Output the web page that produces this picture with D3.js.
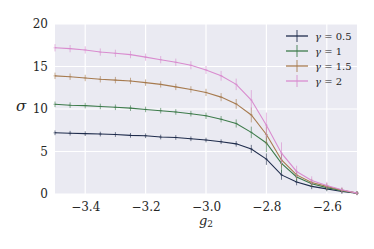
<!DOCTYPE html>
<html>
<head>
<meta charset="utf-8">
<script src="https://cdn.jsdelivr.net/npm/d3@7"></script>
<style>
  body { margin: 0; background: #fff; }
  svg text { fill: #262626; }
</style>
</head>
<body>
<script>
const width = 374;
const height = 249;

// x positions (g2)
const g2 = [-3.5, -3.45, -3.4, -3.35, -3.3, -3.25, -3.2, -3.15, -3.1, -3.05, -3.0,
  -2.95, -2.9, -2.85, -2.8, -2.75, -2.7, -2.65, -2.6, -2.55, -2.5];

// sigma values per gamma
const sigma05 = [7.2, 7.15, 7.1, 7.05, 7.0, 6.9, 6.85, 6.7, 6.65, 6.5, 6.35,
  6.15, 5.9, 5.3, 4.1, 2.25, 1.4, 0.9, 0.6, 0.3, 0.1];
const sigma1 = [10.55, 10.45, 10.4, 10.3, 10.2, 10.1, 9.95, 9.8, 9.65, 9.45, 9.2,
  8.8, 8.3, 7.25, 6.0, 3.6, 2.0, 1.2, 0.75, 0.4, 0.1];
const sigma15 = [13.9, 13.8, 13.65, 13.5, 13.4, 13.3, 13.1, 12.9, 12.6, 12.3, 11.95,
  11.4, 10.6, 9.3, 7.0, 4.0, 2.25, 1.35, 0.9, 0.45, 0.1];
const sigma2 = [17.2, 17.1, 16.95, 16.7, 16.55, 16.4, 16.1, 15.8, 15.5, 15.15, 14.6,
  13.9, 12.9, 11.05, 8.1, 4.8, 2.65, 1.6, 1.0, 0.5, 0.1];

// error bar half-widths
const err05 = [0.1, 0.1, 0.1, 0.1, 0.1, 0.1, 0.1, 0.1, 0.1, 0.1, 0.1,
  0.1, 0.15, 0.3, 0.5, 0.4, 0.2, 0.15, 0.1, 0.1, 0.05];
const err1 = [0.15, 0.15, 0.15, 0.15, 0.15, 0.15, 0.15, 0.15, 0.15, 0.15, 0.2,
  0.2, 0.3, 0.5, 0.9, 0.9, 0.3, 0.2, 0.15, 0.1, 0.05];
const err15 = [0.2, 0.2, 0.2, 0.2, 0.2, 0.2, 0.2, 0.2, 0.2, 0.2, 0.25,
  0.3, 0.4, 0.7, 1.0, 0.7, 0.35, 0.25, 0.2, 0.1, 0.05];
const err2 = [0.25, 0.25, 0.25, 0.25, 0.25, 0.25, 0.25, 0.25, 0.25, 0.3, 0.3,
  0.4, 0.5, 1.0, 1.3, 1.1, 0.5, 0.3, 0.25, 0.15, 0.05];

const labels = ["0.5", "1", "1.5", "2"];
const colors = ["#1f2c4c", "#3d7b4b", "#a77b4f", "#d98ccf"];
const xTicks = [-3.4, -3.2, -3.0, -2.8, -2.6];
const yTicks = [0, 5, 10, 15, 20];

const series = [sigma05, sigma1, sigma15, sigma2].map((s, i) => ({
  label: labels[i],
  color: colors[i],
  pts: s.map((v, j) => ({ x: g2[j], y: v, e: [err05, err1, err15, err2][i][j] }))
}));

const margin = { left: 55, right: 17, top: 24, bottom: 55 };
const font = "'DejaVu Serif', 'Liberation Serif', serif";

const x = d3.scaleLinear().domain([-3.5, -2.5]).range([margin.left, width - margin.right]);
const y = d3.scaleLinear().domain([0, 20]).range([height - margin.bottom, margin.top]);

const svg = d3.select('body').append('svg')
  .attr('width', width)
  .attr('height', height);

svg.append('rect')
  .attr('x', margin.left).attr('y', margin.top)
  .attr('width', width - margin.left - margin.right)
  .attr('height', height - margin.top - margin.bottom)
  .attr('fill', '#eaeaf2');

// grid
svg.append('g').selectAll('line').data(xTicks).enter().append('line')
  .attr('x1', d => x(d)).attr('x2', d => x(d))
  .attr('y1', margin.top).attr('y2', height - margin.bottom)
  .attr('stroke', '#fff').attr('stroke-width', 1.2);
svg.append('g').selectAll('line').data(yTicks).enter().append('line')
  .attr('x1', margin.left).attr('x2', width - margin.right)
  .attr('y1', d => y(d)).attr('y2', d => y(d))
  .attr('stroke', '#fff').attr('stroke-width', 1.2);

// axes (labels only, no domain/ticks)
const xAxis = svg.append('g')
  .attr('transform', `translate(0,${height - margin.bottom})`)
  .call(d3.axisBottom(x).tickValues(xTicks).tickSize(0).tickPadding(8)
    .tickFormat(d => d3.format('.1f')(d).replace('-', '\u2212')));
const yAxis = svg.append('g')
  .attr('transform', `translate(${margin.left},0)`)
  .call(d3.axisLeft(y).tickValues(yTicks).tickSize(0).tickPadding(7));
[xAxis, yAxis].forEach(a => {
  a.attr('font-family', font).attr('font-size', 12);
  a.select('.domain').remove();
  a.selectAll('text').attr('fill', '#333');
});

svg.append('text')
  .attr('x', 21).attr('y', 111)
  .attr('text-anchor', 'middle')
  .attr('font-family', font)
  .style('font-size', '15px').style('font-style', 'italic')
  .text('σ');

const xl = svg.append('text')
  .attr('x', x(-3.0)).attr('y', 225)
  .attr('text-anchor', 'middle')
  .attr('font-family', font)
  .style('font-size', '13px');
xl.append('tspan').style('font-style', 'italic').text('g');
xl.append('tspan').attr('dy', 2).style('font-size', '9px').text('2');

// lines
const line = d3.line().x(d => x(d.x)).y(d => y(d.y));
const plot = svg.append('g');
series.forEach(s => {
  const g = plot.append('g');
  g.append('path').datum(s.pts)
    .attr('d', line).attr('fill', 'none')
    .attr('stroke', s.color).attr('stroke-width', 1.1);
  g.selectAll('.err').data(s.pts).enter().append('line')
    .attr('x1', d => x(d.x)).attr('x2', d => x(d.x))
    .attr('y1', d => y(d.y - d.e) + 1.5).attr('y2', d => y(d.y + d.e) - 1.5)
    .attr('stroke', s.color).attr('stroke-width', 1).attr('opacity', 0.6);
  g.selectAll('.mk').data(s.pts).enter().append('line')
    .attr('x1', d => x(d.x) - 1.5).attr('x2', d => x(d.x) + 1.5)
    .attr('y1', d => y(d.y)).attr('y2', d => y(d.y))
    .attr('stroke', s.color).attr('stroke-width', 1).attr('opacity', 0.5);
});

// legend
const legend = svg.append('g');
series.forEach((s, i) => {
  const ly = 36 + i * 15;
  legend.append('line')
    .attr('x1', 286).attr('x2', 308).attr('y1', ly).attr('y2', ly)
    .attr('stroke', s.color).attr('stroke-width', 1.3);
  legend.append('line')
    .attr('x1', 297).attr('x2', 297).attr('y1', ly - 6).attr('y2', ly + 6)
    .attr('stroke', s.color).attr('stroke-width', 1.1).attr('opacity', 0.8);
  const t = legend.append('text')
    .attr('x', 315).attr('y', ly + 4)
    .attr('font-family', font)
    .style('font-size', '10px').attr('fill', '#555');
  t.append('tspan').style('font-style', 'italic').text('γ');
  t.append('tspan').text(' = ' + s.label);
});
</script>
</body>
</html>
